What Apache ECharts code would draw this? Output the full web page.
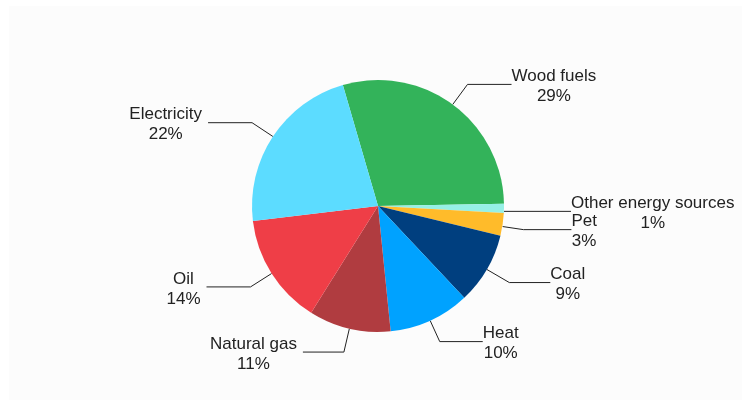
<!DOCTYPE html>
<html>
<head>
<meta charset="utf-8">
<script src="https://cdn.jsdelivr.net/npm/echarts@6/dist/echarts.min.js"></script>
<style>
html,body{margin:0;padding:0;background:#ffffff;}
#chart{width:742px;height:400px;}
</style>
</head>
<body>
<div id="chart"></div>
<script>
// ---- data ----
const categories = ['Wood fuels', 'Other energy sources', 'Pet', 'Coal', 'Heat', 'Natural gas', 'Oil', 'Electricity'];
const shares = [29.2, 1.2, 2.9, 9.2, 10.4, 10.5, 14.2, 22.4];
const shareLabels = [29, 1, 3, 9, 10, 11, 14, 22];

// ---- styles ----
const colors = ['#33b35a', '#96f0e6', '#ffbb2a', '#003f7f', '#00a2ff', '#b03c40', '#ef3e47', '#5cdcff'];
const CX = 378, CY = 206, R = 126, START = 106.2;
const defaultLine = [25, 44];
const lineOverrides = {1: [0, 67], 2: [21, 48], 3: [26, 41], 4: [23, 43], 5: [24, 41]};
const edgeShift = {1: 3, 2: 2};

const total = shares.reduce((a, b) => a + b, 0);

const chart = echarts.init(document.getElementById('chart'), null, {renderer: 'canvas'});

function layoutLabel(params) {
  const i = params.dataIndex;
  let cum = 0;
  for (let k = 0; k < i; k++) cum += shares[k];
  const midDeg = START - 360 * (cum + shares[i] / 2) / total;
  const a = midDeg * Math.PI / 180;
  const c = Math.cos(a), s = Math.sin(a);
  const L = lineOverrides[i] || defaultLine;
  const sh = edgeShift[i] || 0;
  const p0 = [CX + R * c, CY - R * s + sh];
  const p1 = [p0[0] + L[0] * c, p0[1] - L[0] * s];
  const right = c >= 0;
  const p2 = [p1[0] + (right ? L[1] : -L[1]), p1[1]];
  return {
    x: p2[0] + (right ? 0 : -6),
    y: p2[1] + 2,
    align: right ? 'left' : 'right',
    verticalAlign: 'middle',
    labelLinePoints: [p0, p1, p2]
  };
}

chart.setOption({
  backgroundColor: '#ffffff',
  animation: false,
  graphic: [{
    type: 'rect', z: -10, silent: true,
    shape: {x: 9, y: 6, width: 733, height: 394},
    style: {fill: '#fcfcfc'}
  }],
  series: [{
    type: 'pie',
    center: [CX, CY],
    radius: [0, R],
    startAngle: START,
    clockwise: true,
    avoidLabelOverlap: false,
    data: categories.map((n, i) => ({name: n, value: shares[i], itemStyle: {color: colors[i]}})),
    itemStyle: {borderWidth: 0},
    label: {
      show: true,
      position: 'outside',
      formatter: p => '{t|' + p.name + '}\n{t|' + shareLabels[p.dataIndex] + '%}',
      rich: {
        t: {align: 'center', fontFamily: 'Liberation Sans, Arial, sans-serif', fontSize: 17, lineHeight: 20, color: '#222222'}
      },
      distanceToLabelLine: 0
    },
    labelLine: {
      show: true,
      length: 25,
      length2: 44,
      smooth: false,
      lineStyle: {color: '#222222', width: 1}
    },
    labelLayout: layoutLabel,
    emphasis: {disabled: true}
  }]
});
</script>
</body>
</html>
